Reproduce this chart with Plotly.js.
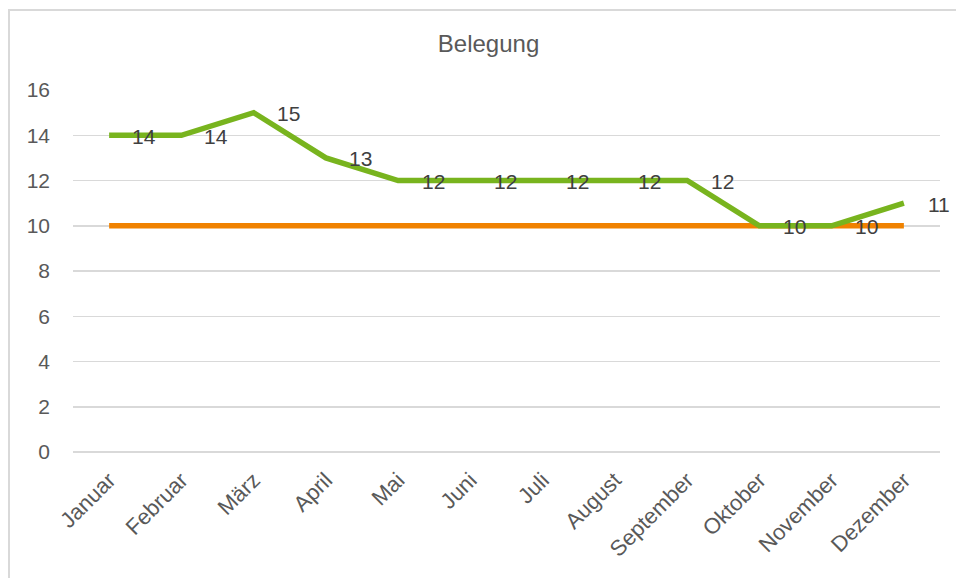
<!DOCTYPE html>
<html>
<head>
<meta charset="utf-8">
<script src="https://cdn.plot.ly/plotly-3.0.1.min.js"></script>
<style>
  html, body { margin: 0; padding: 0; background: #fff; }
  #wrap { position: relative; width: 956px; height: 578px; overflow: hidden; }
  #chart { position: absolute; left: 0; top: 0; width: 956px; height: 578px; }
  #frame { position: absolute; left: 8px; top: 9px; width: 960px; height: 580px;
           border-top: 2px solid #d9d9d9; border-left: 2px solid #d9d9d9; pointer-events: none; }
</style>
</head>
<body>
<div id="wrap">
  <div id="chart"></div>
  <div id="frame"></div>
</div>
<script>
const months = ["Januar","Februar","März","April","Mai","Juni","Juli","August","September","Oktober","November","Dezember"];
const belegung = [14,14,15,13,12,12,12,12,12,10,10,11];
const zielwert = [10,10,10,10,10,10,10,10,10,10,10,10];
const yTicks = [0,2,4,6,8,10,12,14,16];

const FONT = "Liberation Sans, Arial, sans-serif";

const traces = [
  {
    x: months, y: zielwert, type: "scatter", mode: "lines",
    line: { color: "#f08200", width: 5.5 }, hoverinfo: "skip", showlegend: false
  },
  {
    x: months, y: belegung, type: "scatter", mode: "lines",
    line: { color: "#78b41e", width: 5.5 }, hoverinfo: "skip", showlegend: false
  }
];

const annotations = months.map((m, i) => ({
  x: m, y: belegung[i], xref: "x", yref: "y",
  text: String(belegung[i]), showarrow: false,
  xanchor: "center", yanchor: "middle",
  xshift: 35, yshift: -1,
  font: { family: FONT, size: 21, color: "#404040" }
}));

const layout = {
  width: 956, height: 578,
  margin: { l: 73, r: 16, t: 90, b: 126 },
  paper_bgcolor: "#ffffff", plot_bgcolor: "#ffffff",
  title: {
    text: "Belegung", xref: "container", yref: "container",
    x: 0.511, y: 1 - 44/578, xanchor: "center", yanchor: "middle",
    font: { family: FONT, size: 24, color: "#595959" }
  },
  xaxis: {
    type: "category", range: [-0.5, 11.5],
    showgrid: false, zeroline: false, showline: false, ticks: "",
    tickangle: -45, ticklabelstandoff: 10,
    tickfont: { family: FONT, size: 22, color: "#595959" }
  },
  yaxis: {
    range: [0, 16], tickvals: yTicks, ticktext: yTicks.map(String),
    showgrid: true, gridcolor: "#d9d9d9", gridwidth: 1.5,
    zeroline: true, zerolinecolor: "#d9d9d9", zerolinewidth: 1.5,
    showline: false, ticks: "", ticklabelstandoff: 22,
    tickfont: { family: FONT, size: 21, color: "#595959" }
  },
  annotations: annotations,
  showlegend: false
};

Plotly.newPlot("chart", traces, layout, { staticPlot: true, displayModeBar: false });
</script>
</body>
</html>
